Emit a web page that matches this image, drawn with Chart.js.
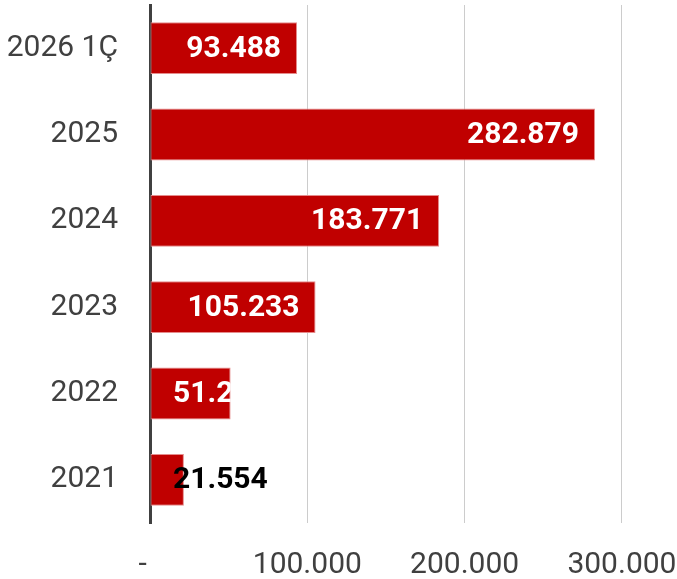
<!DOCTYPE html>
<html>
<head>
<meta charset="utf-8">
<script src="https://cdn.jsdelivr.net/npm/chart.js@4/dist/chart.umd.min.js"></script>
<style>
  html, body { margin: 0; padding: 0; background: #fff; }
  #wrap { width: 677px; height: 579px; }
</style>
</head>
<body>
<div id="wrap"><canvas id="grafico"></canvas></div>
<script>
const categorias = ['2026 1Ç', '2025', '2024', '2023', '2022', '2021'];
const valores = [93488, 282879, 183771, 105233, 51244, 21554];
const ticksX = [0, 100000, 200000, 300000];

// formato con punto de miles (tr-TR)
const formatear = (n) => String(Math.round(n)).replace(/\B(?=(\d{3})+(?!\d))/g, '.');

const sinRelleno = (s) => {
    s.paddingTop = 0; s.paddingBottom = 0; s.paddingLeft = 0; s.paddingRight = 0;
};

const etiquetas = {
    id: 'etiquetas',
    afterDatasetsDraw(chart) {
        const ctx = chart.ctx;
        const meta = chart.getDatasetMeta(0);
        const area = chart.chartArea;
        ctx.save();
        ctx.font = 'bold 30px Roboto';
        ctx.textBaseline = 'middle';
        ctx.textAlign = 'left';
        meta.data.forEach((bar, i) => {
            const texto = formatear(valores[i]);
            const ancho = ctx.measureText(texto).width;
            let x = bar.x - 16 - ancho;
            if (x < area.left + 23) x = area.left + 23;
            const dentro = Math.max(0, bar.x - x);
            ctx.save();
            if (dentro > ancho / 2) {
                ctx.beginPath();
                ctx.rect(bar.base, bar.y - bar.height / 2, bar.x - bar.base, bar.height);
                ctx.clip();
                ctx.fillStyle = '#ffffff';
            } else {
                ctx.fillStyle = '#000000';
            }
            ctx.fillText(texto, x, bar.y + 1);
            ctx.restore();
        });
        ctx.restore();
    }
};

new Chart(document.getElementById('grafico'), {
    type: 'bar',
    data: {
        labels: categorias,
        datasets: [{
            data: valores,
            backgroundColor: '#c00000',
            borderColor: '#e58c8c',
            borderWidth: 1,
            borderSkipped: false,
            barPercentage: 0.6,
            categoryPercentage: 1
        }]
    },
    options: {
        indexAxis: 'y',
        responsive: true,
        maintainAspectRatio: false,
        animation: false,
        layout: { autoPadding: false, padding: { top: 5, left: 0, right: 0, bottom: 0 } },
        plugins: {
            legend: { display: false },
            tooltip: { enabled: false }
        },
        scales: {
            x: {
                min: 0,
                max: 335000,
                afterBuildTicks: (s) => { s.ticks = ticksX.map(v => ({ value: v })); },
                afterFit: (s) => { s.height = 56; sinRelleno(s); },
                grid: { color: '#cccccc', lineWidth: 1, drawTicks: false },
                border: { display: false },
                ticks: {
                    padding: 24,
                    color: '#404040',
                    font: { family: 'Roboto', size: 30 },
                    maxRotation: 0,
                    callback: (v) => v === 0 ? '-  ' : formatear(v)
                }
            },
            y: {
                afterFit: (s) => { s.width = 150; sinRelleno(s); },
                grid: { display: false, drawTicks: false },
                border: { display: true, color: '#404040', width: 3 },
                ticks: {
                    padding: 32,
                    color: '#404040',
                    font: { family: 'Roboto', size: 30 }
                }
            }
        }
    },
    plugins: [etiquetas]
});
</script>
</body>
</html>
